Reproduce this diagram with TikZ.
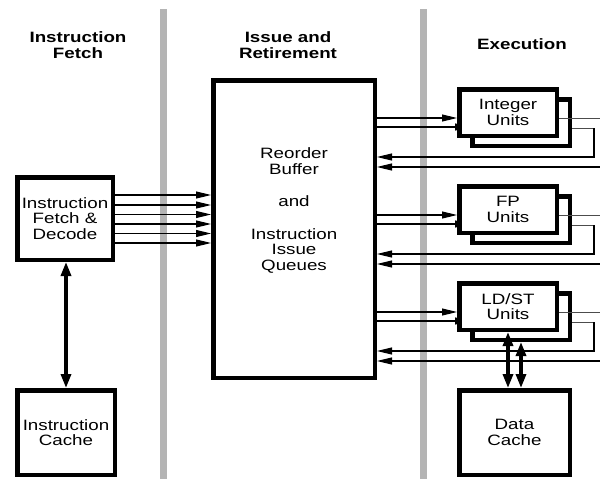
\documentclass[tikz,border=0pt]{standalone}
\usepackage{fontspec}
\setmainfont{Liberation Sans}[FakeStretch=1.25]
\usetikzlibrary{arrows.meta}
\definecolor{barcol}{RGB}{180,180,180}
\begin{document}
\begin{tikzpicture}[x=1pt,y=-1pt,
  box/.style={draw, line width=4.5pt, fill=white, inner sep=0pt, align=center,
    font=\fontsize{15}{15.5}\selectfont},
  txt/.style={inner sep=0pt, align=center, font=\fontsize{15}{15.5}\selectfont},
  hdr/.style={inner sep=0pt, align=center, font=\fontsize{15}{16}\selectfont\bfseries},
  arr/.style={-{Triangle[length=15pt,width=7pt]}, line width=1.1pt},
  outl/.style={line width=1pt, black!70},
  dbl/.style={{Triangle[length=14pt,width=10pt]}-{Triangle[length=14pt,width=10pt]}, line width=3.2pt}]
\useasboundingbox (0,0) rectangle (600,479);
% separator bars
\fill[barcol] (160,9) rectangle (167,479);
\fill[barcol] (419.5,9) rectangle (426.5,479);
% headers
\node[hdr] (h1) at (78,45) {Instruction\\Fetch};
\node[hdr] (h2) at (288,45) {Issue and\\Retirement};
\node[hdr] (h3) at (522,44) {Execution};
% left column
\node[box, minimum width=95.5pt, minimum height=82.5pt] (fetch) at (65,218.5) {Instruction\\Fetch \&\\Decode};
\node[box, minimum width=97.5pt, minimum height=84.5pt] (icache) at (66,432.5) {Instruction\\Cache};
% reorder buffer
\node[box, minimum width=161.5pt, minimum height=297.5pt] (rob) at (294,229) {};
\node[txt] (robtext) at (294,210.5) {Reorder\\Buffer\\[17pt]and\\[17pt]Instruction\\Issue\\Queues};
% fetch -> rob arrows
\foreach \y in {195,205,214.5,224,233.5,243}
  \draw[arr] (fetch.east |- 0,\y) -- (rob.west |- 0,\y);
\draw[dbl] (fetch.south -| 66,0) -- (icache.north -| 66,0);
% execution units
\foreach \n/\t/\y in {int/{Integer}/112.5, fp/{FP}/209.5, ls/{LD/ST}/306.5}{
  \node[box, minimum width=97.5pt, minimum height=46.5pt] (\n b) at (521,\y+10) {};
  \draw[arr] (rob.east |- 0,\y+14.5) -- (\n b.west |- 0,\y+14.5);
  \node[box, minimum width=97.5pt, minimum height=46.5pt] (\n) at (508,\y) {\t\\Units};
  \draw[arr] (rob.east |- 0,\y+5.5) -- (\n.west |- 0,\y+5.5);
  \coordinate (\n o) at (600,\y+5.5);
  \draw[outl] (\n.east |- 0,\y+5.5) -- (\n o);
  \coordinate (\n t) at (594,\y+15.5);
  \draw[outl] (\n b.east |- 0,\y+15.5) -- (\n t);
  \draw[arr] (\n t) -- (594,\y+44.5) -- (rob.east |- 0,\y+44.5);
  \coordinate (\n r) at (600,\y+54.5);
  \draw[arr] (\n r) -- (rob.east |- 0,\y+54.5);
}
% data cache
\node[box, minimum width=110.5pt, minimum height=84.5pt] (dcache) at (514.5,432.5) {Data\\Cache};
\draw[dbl] (ls.south) -- (dcache.north -| ls.south);
\draw[dbl] (lsb.south) -- (dcache.north -| lsb.south);
\end{tikzpicture}
\end{document}
